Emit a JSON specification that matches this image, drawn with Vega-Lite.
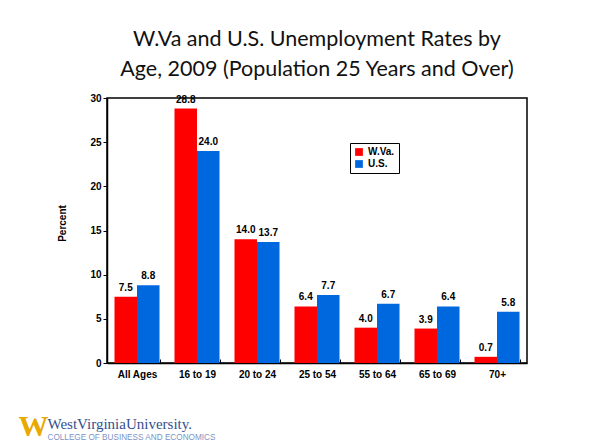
{
  "$schema": "https://vega.github.io/schema/vega-lite/v6.json",
  "width": 420,
  "height": 265,
  "autosize": "none",
  "padding": {"left": 107, "top": 98, "right": 63, "bottom": 81},
  "background": "white",
  "title": {
    "text": ["W.Va and U.S. Unemployment Rates by", "Age, 2009 (Population 25 Years and Over)"],
    "font": "Lato",
    "fontSize": 21.5,
    "fontWeight": "normal",
    "color": "#111111",
    "lineHeight": 30,
    "anchor": "middle",
    "offset": 13
  },
  "data": {
    "values": [
      {"age": "All Ages", "series": "W.Va.", "value": 7.5},
      {"age": "All Ages", "series": "U.S.", "value": 8.8},
      {"age": "16 to 19", "series": "W.Va.", "value": 28.8},
      {"age": "16 to 19", "series": "U.S.", "value": 24.0},
      {"age": "20 to 24", "series": "W.Va.", "value": 14.0},
      {"age": "20 to 24", "series": "U.S.", "value": 13.7},
      {"age": "25 to 54", "series": "W.Va.", "value": 6.4},
      {"age": "25 to 54", "series": "U.S.", "value": 7.7},
      {"age": "55 to 64", "series": "W.Va.", "value": 4.0},
      {"age": "55 to 64", "series": "U.S.", "value": 6.7},
      {"age": "65 to 69", "series": "W.Va.", "value": 3.9},
      {"age": "65 to 69", "series": "U.S.", "value": 6.4},
      {"age": "70+", "series": "W.Va.", "value": 0.7},
      {"age": "70+", "series": "U.S.", "value": 5.8}
    ]
  },
  "encoding": {
    "x": {
      "field": "age",
      "type": "nominal",
      "sort": ["All Ages", "16 to 19", "20 to 24", "25 to 54", "55 to 64", "65 to 69", "70+"],
      "scale": {"paddingInner": 0.25, "paddingOuter": 0.125}
    },
    "xOffset": {"field": "series", "type": "nominal", "sort": ["W.Va.", "U.S."]},
    "y": {"field": "value", "type": "quantitative", "scale": {"domain": [0, 30], "nice": false}}
  },
  "layer": [
    {
      "mark": {"type": "bar"},
      "encoding": {
        "x": {
          "field": "age",
          "type": "nominal",
          "sort": ["All Ages", "16 to 19", "20 to 24", "25 to 54", "55 to 64", "65 to 69", "70+"],
          "scale": {"paddingInner": 0.25, "paddingOuter": 0.125},
          "axis": {
            "orient": "bottom",
            "labelAngle": 0,
            "tickBand": "extent",
            "tickSize": -4,
            "labelPadding": 10,
            "title": "WestVirginiaUniversity.",
            "titleFont": "Liberation Serif",
            "titleFontSize": 15,
            "titleFontWeight": "normal",
            "titleColor": "#33508f",
            "titleAlign": "left",
            "titleBaseline": "alphabetic",
            "titleX": -60,
            "titleY": 65
          }
        },
        "y": {
          "field": "value",
          "type": "quantitative",
          "scale": {"domain": [0, 30], "nice": false},
          "axis": {
            "values": [0, 5, 10, 15, 20, 25, 30],
            "grid": false,
            "tickSize": 4,
            "labelPadding": 2,
            "title": "Percent",
            "titleX": -40,
            "titleY": 125
          }
        },
        "color": {
          "field": "series",
          "type": "nominal",
          "sort": ["W.Va.", "U.S."],
          "scale": {"domain": ["W.Va.", "U.S."], "range": ["#FF0000", "#0068DE"]},
          "legend": {
            "title": null,
            "orient": "none",
            "legendX": 243,
            "legendY": 45,
            "strokeColor": "black",
            "padding": 4,
            "symbolType": "square",
            "symbolSize": 60,
            "symbolStrokeWidth": 0,
            "labelFont": "Liberation Sans",
            "labelFontSize": 10,
            "labelFontWeight": "bold",
            "labelColor": "black",
            "rowPadding": 2
          }
        }
      }
    },
    {
      "mark": {"type": "text", "baseline": "bottom", "dy": -4, "font": "Liberation Sans", "fontSize": 10, "fontWeight": "bold", "color": "black"},
      "encoding": {
        "x": {
          "field": "age",
          "type": "nominal",
          "sort": ["All Ages", "16 to 19", "20 to 24", "25 to 54", "55 to 64", "65 to 69", "70+"],
          "scale": {"paddingInner": 0.25, "paddingOuter": 0.125},
          "axis": {
            "orient": "top",
            "labels": false,
            "ticks": false,
            "domain": false,
            "title": "COLLEGE OF BUSINESS AND ECONOMICS",
            "titleFont": "Liberation Sans",
            "titleFontSize": 8.2,
            "titleFontWeight": "normal",
            "titleColor": "#7d93c4",
            "titleAlign": "left",
            "titleBaseline": "alphabetic",
            "titleX": -60,
            "titleY": 341
          }
        },
        "y": {
          "field": "value",
          "type": "quantitative",
          "scale": {"domain": [0, 30], "nice": false},
          "axis": {
            "orient": "right",
            "labels": false,
            "ticks": false,
            "domain": false,
            "grid": false,
            "title": "W",
            "titleFont": "Liberation Serif",
            "titleFontSize": 30,
            "titleFontWeight": "bold",
            "titleColor": "#E8A900",
            "titleAngle": 0,
            "titleAlign": "left",
            "titleBaseline": "alphabetic",
            "titleX": -509,
            "titleY": 337
          }
        },
        "text": {"field": "value", "type": "quantitative", "format": ".1f"}
      }
    }
  ],
  "resolve": {"axis": {"x": "independent", "y": "independent"}},
  "config": {
    "view": {"stroke": "black", "strokeWidth": 1.5},
    "axis": {
      "labelFont": "Liberation Sans",
      "labelFontSize": 10,
      "labelFontWeight": "bold",
      "labelColor": "black",
      "titleFont": "Liberation Sans",
      "titleFontSize": 10,
      "titleFontWeight": "bold",
      "titleColor": "black",
      "domainColor": "black",
      "domainWidth": 1.5,
      "tickColor": "black",
      "tickWidth": 1
    }
  }
}
